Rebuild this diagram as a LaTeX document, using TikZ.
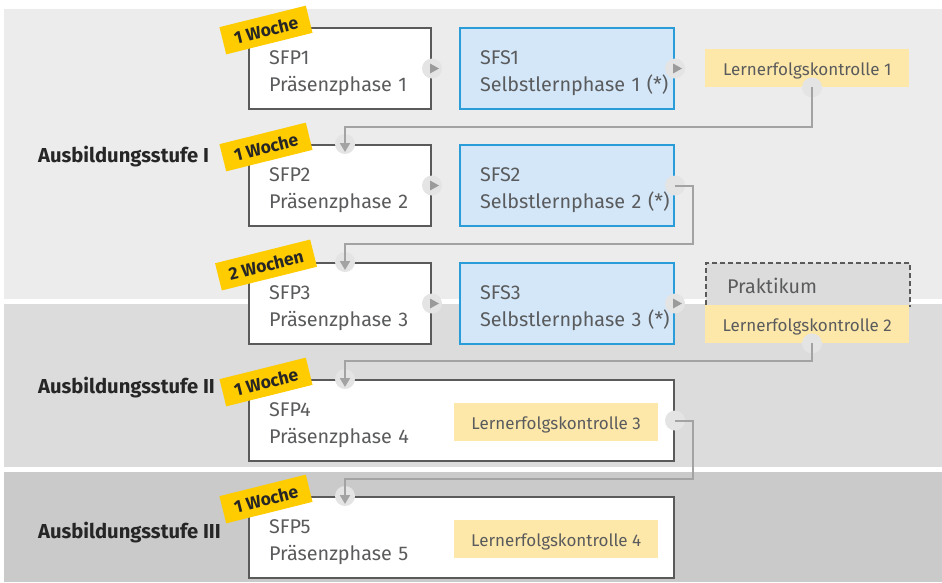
\documentclass[tikz,border=0pt]{standalone}
\usepackage{fontspec}
\setmainfont{Fira Sans}
\usetikzlibrary{arrows.meta}
\definecolor{bandA}{HTML}{ECECEC}
\definecolor{bandB}{HTML}{DCDCDC}
\definecolor{bandC}{HTML}{C9CAC9}
\definecolor{boxline}{HTML}{5A5A5A}
\definecolor{sfsfill}{HTML}{D4E7F8}
\definecolor{sfsline}{HTML}{2A9DD8}
\definecolor{lkfill}{HTML}{FDE8A9}
\definecolor{tagyellow}{HTML}{FFCC00}
\definecolor{txtgray}{HTML}{5A5B5D}
\definecolor{conngray}{HTML}{A3A3A3}
\definecolor{dotgray}{HTML}{E4E4E4}
\definecolor{trigray}{HTML}{9B9B9B}

\begin{document}
\begin{tikzpicture}[x=1pt,y=-1pt,
        phase/.style={draw=boxline, line width=2pt, fill=white, anchor=north west,
            minimum width=182pt, text width=182pt, inner xsep=0pt, inner ysep=0pt,
            text height=36pt, text depth=45pt, align=left, text=txtgray,
            execute at begin node={\leftskip=20pt}, font=\fontsize{19.8}{27}\selectfont},
        selbst/.style={phase, draw=sfsline, fill=sfsfill, minimum width=214pt, text width=214pt},
        wide/.style={phase, minimum width=425pt, text width=425pt},
        lk/.style={fill=lkfill, anchor=north west, minimum width=204pt, inner sep=0pt,
            text height=26pt, text depth=12pt, text=txtgray, font=\fontsize{17}{20}\selectfont},
        prakt/.style={fill=bandB, draw=boxline, dashed, dash pattern=on 5pt off 3pt, line width=2pt,
            anchor=north west, minimum width=204pt, text width=204pt, inner sep=0pt,
            text height=30pt, text depth=13pt, align=left, text=txtgray,
            execute at begin node={\leftskip=21pt}, font=\fontsize{19.8}{22}\selectfont},
        woche/.style={fill=tagyellow, rotate=14, minimum width=89pt, minimum height=28pt,
            inner sep=2pt, text=black!85, font=\bfseries\fontsize{17.5}{20}\selectfont},
        stufe/.style={anchor=base west, inner sep=0pt, text=black!85, font=\bfseries\fontsize{20.2}{22}\selectfont},
        dot/.style={circle, fill=dotgray, minimum size=20pt, inner sep=0pt},
        conn/.style={draw=conngray, line width=2pt, -{Triangle[width=10pt,length=9pt]}},
        tri/.style={fill=trigray}]
        \useasboundingbox (0,0) rectangle (942,582);
        \fill[bandA] (4,9) rectangle (942,299);
        \fill[bandB] (4,304) rectangle (942,467);
        \fill[bandC] (4,472) rectangle (942,582);

        \node[phase] (p1) at (248,27) {SFP1\\Präsenzphase 1};
        \node[selbst] (s1) at (459,27) {SFS1\\Selbstlernphase 1 (*)};
        \node[lk] (k1) at (705,49) {Lernerfolgskontrolle 1};
        \node[phase] (p2) at (248,144) {SFP2\\Präsenzphase 2};
        \node[selbst] (s2) at (459,144) {SFS2\\Selbstlernphase 2 (*)};
        \node[phase] (p3) at (248,262) {SFP3\\Präsenzphase 3};
        \node[selbst] (s3) at (459,262) {SFS3\\Selbstlernphase 3 (*)};
        \node[prakt] (pr) at (705,262) {Praktikum};
        \node[lk] (k2) at (705,305) {Lernerfolgskontrolle 2};
        \node[wide] (p4) at (248,379) {SFP4\\Präsenzphase 4};
        \node[lk] (k3) at (454,403) {Lernerfolgskontrolle 3};
        \node[wide] (p5) at (248,496) {SFP5\\Präsenzphase 5};
        \node[lk] (k4) at (454,520) {Lernerfolgskontrolle 4};

        \node[dot] (r1) at (p1.east) {};
        \node[dot] (r2) at (s1.east) {};
        \node[dot] (b1) at ([xshift=107pt]k1.south west) {};
        \node[dot] (t2) at ([xshift=97pt]p2.north west) {};
        \node[dot] (r3) at (p2.east) {};
        \node[dot] (r4) at (s2.east) {};
        \node[dot] (t3) at ([xshift=97pt]p3.north west) {};
        \node[dot] (r5) at (p3.east) {};
        \node[dot] (r6) at (s3.east) {};
        \node[dot] (b2) at ([xshift=107pt]k2.south west) {};
        \node[dot] (t4) at ([xshift=97pt]p4.north west) {};
        \node[dot] (r7) at (p4.east) {};
        \node[dot] (t5) at ([xshift=97pt]p5.north west) {};

        \draw[conn] (b1.center) -- ++(0,40) -| ([yshift=-8pt]t2.center);
        \draw[conn] (r4.center) -- ++(18,0) -- ++(0,58.5) -| ([yshift=-8pt]t3.center);
        \draw[conn] (b2.center) -- ++(0,18) -| ([yshift=-8pt]t4.center);
        \draw[conn] (r7.center) -- ++(18,0) -- ++(0,58) -| ([yshift=-8pt]t5.center);

        \fill[tri] ([shift={(-2,-5)}]r1.center) -- ([shift={(-2,5)}]r1.center) -- ([shift={(7,0)}]r1.center) -- cycle;
        \fill[tri] ([shift={(-2,-5)}]r2.center) -- ([shift={(-2,5)}]r2.center) -- ([shift={(7,0)}]r2.center) -- cycle;
        \fill[tri] ([shift={(-2,-5)}]r3.center) -- ([shift={(-2,5)}]r3.center) -- ([shift={(7,0)}]r3.center) -- cycle;
        \fill[tri] ([shift={(-2,-5)}]r5.center) -- ([shift={(-2,5)}]r5.center) -- ([shift={(7,0)}]r5.center) -- cycle;
        \fill[tri] ([shift={(-2,-5)}]r6.center) -- ([shift={(-2,5)}]r6.center) -- ([shift={(7,0)}]r6.center) -- cycle;

        \node[woche] (w1) at (266,30) {1 Woche};
        \node[woche] (w2) at (266,147) {1 Woche};
        \node[woche, minimum width=98pt] (w3) at (266,265) {2 Wochen};
        \node[woche] (w4) at (266,382) {1 Woche};
        \node[woche] (w5) at (266,499) {1 Woche};

        \node[stufe] (a1) at (38,162) {Ausbildungsstufe I};
        \node[stufe] (a2) at (38,393) {Ausbildungsstufe II};
        \node[stufe] (a3) at (38,538) {Ausbildungsstufe III};
\end{tikzpicture}
\end{document}
